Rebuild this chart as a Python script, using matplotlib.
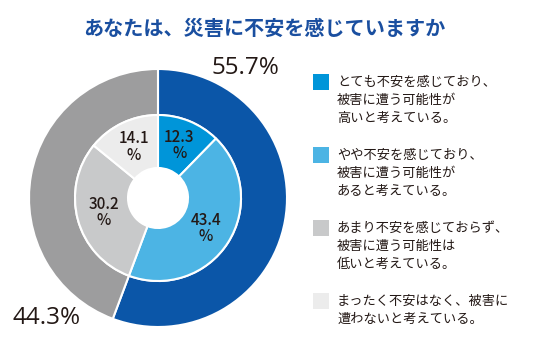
import matplotlib
matplotlib.use("Agg")
import matplotlib.pyplot as plt
from matplotlib.patches import Rectangle

plt.rcParams['font.family'] = ['Noto Sans CJK JP', 'DejaVu Sans']

title = "あなたは、災害に不安を感じていますか"
outer_values = [55.7, 44.3]
outer_labels = ["55.7%", "44.3%"]
outer_colors = ["#0b56a8", "#9d9d9e"]
inner_values = [12.3, 43.4, 30.2, 14.1]
inner_colors = ["#0095d9", "#4cb4e4", "#c8c9ca", "#ececec"]
legend_labels = [
    "とても不安を感じており、\n被害に遭う可能性が\n高いと考えている。",
    "やや不安を感じており、\n被害に遭う可能性が\nあると考えている。",
    "あまり不安を感じておらず、\n被害に遭う可能性は\n低いと考えている。",
    "まったく不安はなく、被害に\n遭わないと考えている。",
]

W, H = 550, 360
fig = plt.figure(figsize=(5.5, 3.6), dpi=100)
ax = fig.add_axes([0, 0, 1, 1])
ax.set_xlim(0, W)
ax.set_ylim(0, H)
ax.set_aspect('equal')
ax.axis('off')

cx, cy = 158, H - 198
R_out, R_mid, R_in = 129, 83, 30

ax.pie(outer_values, colors=outer_colors, radius=R_out, center=(cx, cy),
       startangle=90, counterclock=False,
       wedgeprops=dict(width=R_out - R_mid, edgecolor='white', linewidth=1.5))
ax.pie(inner_values, colors=inner_colors, radius=R_mid, center=(cx, cy),
       startangle=90, counterclock=False,
       autopct=lambda p: f"{p:.1f}\n%", pctdistance=(R_in + R_mid) / 2 / R_mid,
       textprops=dict(fontsize=11, color='#231815', linespacing=0.95,
                      fontweight='medium'),
       wedgeprops=dict(width=R_mid - R_in, edgecolor='white', linewidth=1.5))
ax.set_xlim(0, W)
ax.set_ylim(0, H)

ax.text(245, H - 68, outer_labels[0], fontsize=17.5, color='#231815',
        ha='center', va='center', family=['Open Sans', 'DejaVu Sans'])
ax.text(47, H - 318, outer_labels[1], fontsize=17.5, color='#231815',
        ha='center', va='center', family=['Open Sans', 'DejaVu Sans'])

ax.text(264, H - 28, title, fontsize=14.5, fontweight='bold', color='#1a4fa0',
        ha='center', va='center')

for i, (lab, col) in enumerate(zip(legend_labels, inner_colors)):
    y0 = 82 + 73 * i
    ax.add_patch(Rectangle((313, H - y0 - 8), 16, 16, facecolor=col, edgecolor='none'))
    for j, line in enumerate(lab.split("\n")):
        ax.text(337, H - (y0 + 18 * j), line, fontsize=9.5, color='#231815',
                ha='left', va='center')

fig.savefig("out.png", dpi=100)
